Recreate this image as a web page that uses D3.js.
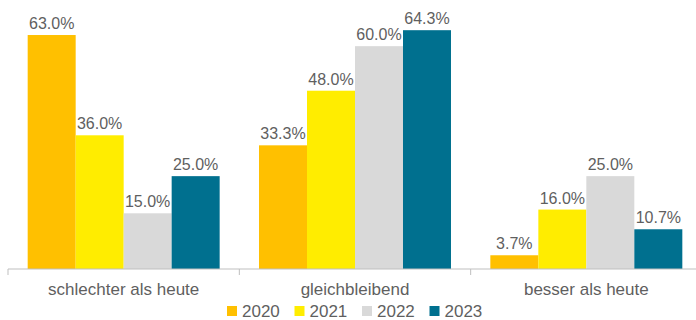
<!DOCTYPE html>
<html>
<head>
<meta charset="utf-8">
<script src="https://cdn.jsdelivr.net/npm/d3@7"></script>
<style>
  body { margin: 0; background: #fff; }
  svg { display: block; font-family: "Liberation Sans", Arial, sans-serif; }
</style>
</head>
<body>
<svg id="chart" width="696" height="320"></svg>
<script>
// data
const categories = ['schlechter als heute', 'gleichbleibend', 'besser als heute'];
const years = ['2020', '2021', '2022', '2023'];
const v2020 = [63.0, 33.3, 3.7];
const v2021 = [36.0, 48.0, 16.0];
const v2022 = [15.0, 60.0, 25.0];
const v2023 = [25.0, 64.3, 10.7];
const colors = ['#FFC000', '#FFED00', '#D9D9D9', '#00708F'];

const series = [v2020, v2021, v2022, v2023];

let svg = d3.select('#chart');

const baseY = 269;
const textColor = '#5f5f5f';

let x0 = d3.scaleBand()
    .domain(categories)
    .range([8, 702])
    .paddingInner(0)
    .paddingOuter(0);

// 48px bars inside a 231px band
let x1 = d3.scaleBand()
    .domain(years)
    .range([0, x0.bandwidth()])
    .paddingOuter(0.41)
    .paddingInner(0);

let y = d3.scaleLinear()
    .domain([0, 70])
    .range([baseY, baseY - 70 * 3.714]);

let groups = svg.selectAll('.grp')
    .data(categories)
    .enter()
    .append('g')
    .attr('class', 'grp')
    .attr('transform', d => `translate(${x0(d)},0)`);

const cells = (d, i) => years.map((yr, j) => ({ yr: yr, j: j, value: series[j][i] }));

groups.selectAll('rect')
    .data(cells)
    .enter()
    .append('rect')
    .attr('x', d => x1(d.yr))
    .attr('y', d => y(d.value))
    .attr('width', x1.bandwidth())
    .attr('height', d => baseY - y(d.value))
    .attr('fill', d => colors[d.j]);

groups.selectAll('text.val')
    .data(cells)
    .enter()
    .append('text')
    .attr('class', 'val')
    .attr('x', d => x1(d.yr) + x1.bandwidth() / 2)
    .attr('y', d => y(d.value) - 6)
    .attr('text-anchor', 'middle')
    .attr('font-size', 16)
    .attr('fill', textColor)
    .text(d => d.value.toFixed(1) + '%');

// category axis
let axis = svg.append('g')
    .attr('transform', `translate(0,${baseY})`);

axis.append('line')
    .attr('x1', 8).attr('x2', 702)
    .attr('stroke', '#BFBFBF')
    .attr('stroke-width', 1);

axis.selectAll('.tick')
    .data(categories.concat(['end']))
    .enter()
    .append('line')
    .attr('x1', (d, i) => 8 + i * x0.bandwidth())
    .attr('x2', (d, i) => 8 + i * x0.bandwidth())
    .attr('y1', 0).attr('y2', 6)
    .attr('stroke', '#BFBFBF');

axis.selectAll('.cat')
    .data(categories)
    .enter()
    .append('text')
    .attr('x', d => x0(d) + x0.bandwidth() / 2)
    .attr('y', 26)
    .attr('text-anchor', 'middle')
    .attr('font-size', 17)
    .attr('fill', textColor)
    .text(d => d);

// legend
let legend = svg.append('g')
    .attr('transform', 'translate(227,306)');

let items = legend.selectAll('g')
    .data(years)
    .enter()
    .append('g')
    .attr('transform', (d, i) => `translate(${i * 67.5},0)`);

items.append('rect')
    .attr('width', 10).attr('height', 10)
    .attr('fill', (d, i) => colors[i]);

items.append('text')
    .attr('x', 15)
    .attr('y', 11)
    .attr('font-size', 17)
    .attr('fill', textColor)
    .text(d => d);
</script>
</body>
</html>
